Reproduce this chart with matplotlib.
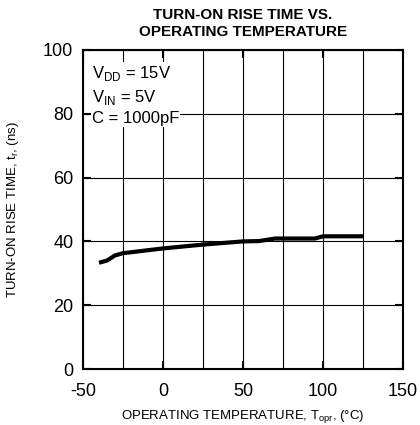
import matplotlib
matplotlib.use("Agg")
import matplotlib.pyplot as plt

plt.rcParams['font.family'] = ['Liberation Sans', 'DejaVu Sans']
plt.rcParams['axes.unicode_minus'] = False

# Rise time vs temperature
temp = [-40, -35, -30, -25, 0, 25, 50, 60, 70, 95, 100, 125]
rise_time = [33.3, 34.0, 35.6, 36.3, 37.8, 39.0, 40.0, 40.1, 40.9, 40.9, 41.6, 41.6]

xticks = [-50, 0, 50, 100, 150]
yticks = [0, 20, 40, 60, 80, 100]

fig = plt.figure(figsize=(4.2, 4.25), dpi=100)
ax = fig.add_axes([83/420, 56/425, 320/420, 319/425])

ax.plot(temp, rise_time, color='black', linewidth=3, solid_capstyle='butt', zorder=3)

ax.set_xlim(-50, 150)
ax.set_ylim(0, 100)
ax.set_xticks(xticks)
ax.set_yticks(yticks)
ax.set_xticks(range(-50, 151, 25), minor=True)
ax.grid(which='both', color='black', linewidth=0.8)
ax.tick_params(which='major', direction='in', length=6, width=1.5, top=True, right=True,
               labelsize=13)
ax.tick_params(axis='y', pad=7)
ax.tick_params(axis='x', pad=10)
ax.tick_params(which='minor', direction='in', length=0, top=True)
for s in ax.spines.values():
    s.set_linewidth(1.5)

ax.text(-44.5, 95.5, "V$_{\\mathregular{DD}}$ = 15V\nV$_{\\mathregular{IN}}$ = 5V\nC = 1000pF",
        fontsize=12, va='top', ha='left', linespacing=1.35,
        bbox=dict(facecolor='white', edgecolor='none', pad=0.5), zorder=4)

ax.set_title("TURN-ON RISE TIME VS.\nOPERATING TEMPERATURE", fontsize=11, fontweight='bold',
             pad=10, linespacing=1.3)
ax.set_xlabel("OPERATING TEMPERATURE, T$_{\\mathregular{opr}}$, (°C)", fontsize=9.5, labelpad=6)
ax.set_ylabel("TURN-ON RISE TIME, t$_{\\mathregular{r}}$, (ns)", fontsize=9.5, labelpad=16)

fig.savefig("out.png", dpi=100)
